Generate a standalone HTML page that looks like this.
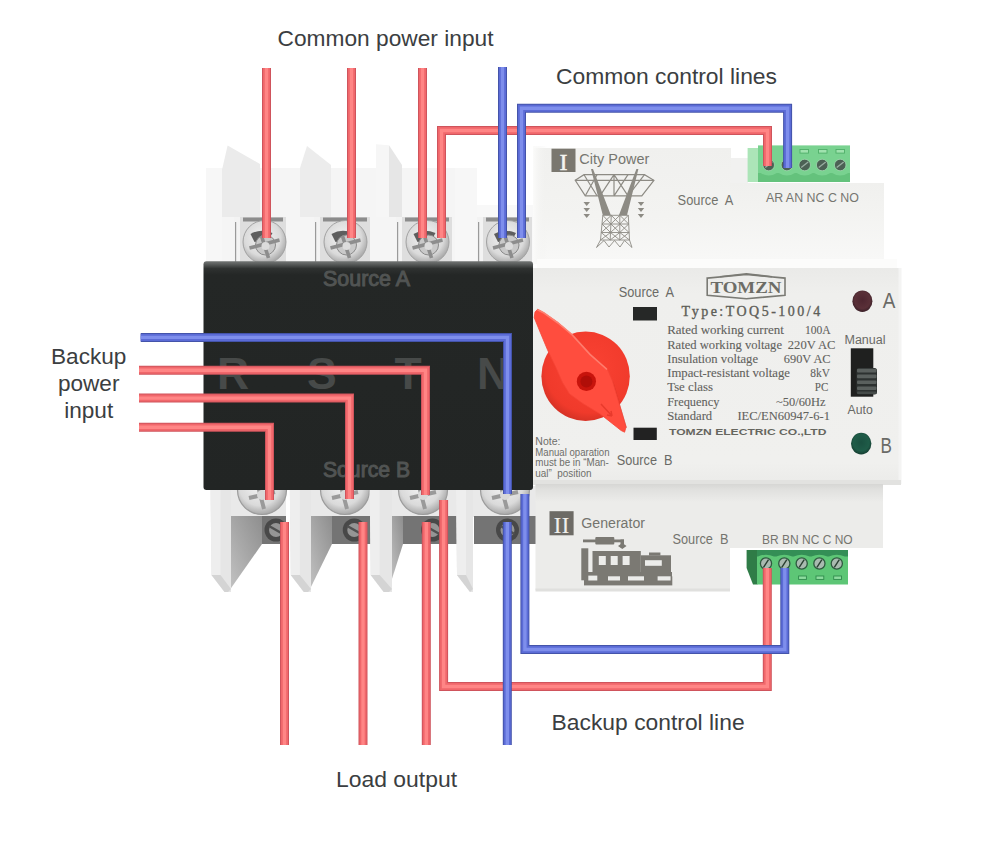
<!DOCTYPE html>
<html><head><meta charset="utf-8">
<style>
html,body{margin:0;padding:0;background:#fff;width:1000px;height:856px;overflow:hidden}
svg{display:block}
text{font-family:"Liberation Sans",sans-serif;white-space:pre}
.lbl{font-size:22.6px;fill:#3b3e41}
.ser{font-family:"Liberation Serif",serif}
.g6{fill:#707070}
</style></head><body>
<svg width="1000" height="856" viewBox="0 0 1000 856" xml:space="preserve">
<defs>
<linearGradient id="blk" x1="0" y1="0" x2="0" y2="1">
<stop offset="0" stop-color="#727574"/><stop offset="0.012" stop-color="#5a5d5c"/><stop offset="0.032" stop-color="#2e3130"/><stop offset="0.06" stop-color="#242726"/><stop offset="1" stop-color="#222524"/>
</linearGradient>
<linearGradient id="wedge" x1="1" y1="0" x2="0" y2="1">
<stop offset="0" stop-color="#8e8e8e"/><stop offset="0.5" stop-color="#a8a8a8"/><stop offset="1" stop-color="#c4c4c4"/>
</linearGradient>
<radialGradient id="screw" cx="0.45" cy="0.4" r="0.6">
<stop offset="0" stop-color="#f4f4f4"/><stop offset="0.7" stop-color="#dadada"/><stop offset="1" stop-color="#a8a8a8"/>
</radialGradient>
<linearGradient id="bband" x1="0" y1="0" x2="0" y2="1">
<stop offset="0" stop-color="#d6d6d4"/><stop offset="0.3" stop-color="#e0e0de"/><stop offset="1" stop-color="#ececea"/>
</linearGradient>
<linearGradient id="tmod" x1="0" y1="0" x2="0" y2="1">
<stop offset="0" stop-color="#f0f0ee"/><stop offset="0.6" stop-color="#f3f3f1"/><stop offset="1" stop-color="#f8f8f7"/>
</linearGradient>
<linearGradient id="tmod2" x1="0" y1="0" x2="0" y2="1">
<stop offset="0" stop-color="#f0f0ee"/><stop offset="0.4" stop-color="#f3f3f1"/><stop offset="1" stop-color="#f8f8f7"/>
</linearGradient>
<linearGradient id="pnl" x1="0" y1="0" x2="0" y2="1">
<stop offset="0" stop-color="#eaeae8"/><stop offset="0.12" stop-color="#efefed"/><stop offset="0.9" stop-color="#f0f0ee"/><stop offset="1" stop-color="#ebebe9"/>
</linearGradient>
<linearGradient id="tedge" x1="0" y1="0" x2="1" y2="0">
<stop offset="0" stop-color="#fbfbfa"/><stop offset="1" stop-color="#f1f1ef" stop-opacity="0"/>
</linearGradient>
<radialGradient id="dial" cx="0.55" cy="0.4" r="0.6">
<stop offset="0" stop-color="#fa4233"/><stop offset="0.85" stop-color="#f03a2b"/><stop offset="1" stop-color="#d83326"/>
</radialGradient>
<radialGradient id="ledA" cx="0.5" cy="0.45" r="0.55">
<stop offset="0" stop-color="#4e2630"/><stop offset="0.7" stop-color="#5a3038"/><stop offset="1" stop-color="#3a2028"/>
</radialGradient>
<radialGradient id="ledB" cx="0.5" cy="0.45" r="0.55">
<stop offset="0" stop-color="#1a5040"/><stop offset="0.7" stop-color="#1f5c48"/><stop offset="1" stop-color="#163e32"/>
</radialGradient>
</defs>
<rect width="1000" height="856" fill="#fff"/>

<g id="topfins">
<rect x="206" y="168" width="249" height="94" fill="#f5f5f5"/>
<rect x="455" y="168" width="22" height="94" fill="#f7f7f7"/>
<rect x="477" y="205" width="59" height="57" fill="#f8f8f8"/>
<rect x="206" y="168" width="16" height="94" fill="#f7f7f7"/>
<polygon points="222,170 227.6,145.6 260,164 260,217 222,217" fill="#ebebeb"/>
<polygon points="300,168 307,146 331,165 331,217 300,217" fill="#ececec"/>
<polygon points="376,168 376,144.3 389,145.2 389,217 376,217" fill="#f6f6f6"/>
<polygon points="389,145.2 402,165 402,217 389,217" fill="#e6e6e6"/>
</g>
<g id="topterm">
<rect x="234" y="217" width="6" height="45" fill="#f3f3f3"/>
<rect x="235" y="222" width="1.2" height="40" fill="#9a9a9a"/>
<rect x="240" y="217" width="46" height="45" fill="#dedede"/>
<rect x="243" y="217.5" width="40" height="4" fill="#8c8c8c"/>
<circle cx="264.5" cy="242" r="21.5" fill="url(#screw)" stroke="#a2a2a2" stroke-width="1"/>
<path d="M250.5 234Q260.5 228 272.5 233L268.5 240L254.5 242Z" fill="#5e5e5e"/>
<circle cx="265.5" cy="245" r="10" fill="#c9c9c9" stroke="#8a8a8a" stroke-width="1"/>
<path d="M249.5 248L279.5 240M261.5 236L268.5 258" stroke="#8d8d8d" stroke-width="3.6"/>
<circle cx="265.5" cy="246" r="4" fill="#dcdcdc"/>
<rect x="314" y="217" width="6" height="45" fill="#f3f3f3"/>
<rect x="315" y="222" width="1.2" height="40" fill="#9a9a9a"/>
<rect x="320" y="217" width="50" height="45" fill="#dedede"/>
<rect x="323" y="217.5" width="44" height="4" fill="#8c8c8c"/>
<circle cx="345.5" cy="242" r="21.5" fill="url(#screw)" stroke="#a2a2a2" stroke-width="1"/>
<path d="M331.5 234Q341.5 228 353.5 233L349.5 240L335.5 242Z" fill="#5e5e5e"/>
<circle cx="346.5" cy="245" r="10" fill="#c9c9c9" stroke="#8a8a8a" stroke-width="1"/>
<path d="M330.5 248L360.5 240M342.5 236L349.5 258" stroke="#8d8d8d" stroke-width="3.6"/>
<circle cx="346.5" cy="246" r="4" fill="#dcdcdc"/>
<rect x="396" y="217" width="6" height="45" fill="#f3f3f3"/>
<rect x="397" y="222" width="1.2" height="40" fill="#9a9a9a"/>
<rect x="402" y="217" width="50" height="45" fill="#dedede"/>
<rect x="405" y="217.5" width="44" height="4" fill="#8c8c8c"/>
<circle cx="427.5" cy="242" r="21.5" fill="url(#screw)" stroke="#a2a2a2" stroke-width="1"/>
<path d="M413.5 234Q423.5 228 435.5 233L431.5 240L417.5 242Z" fill="#5e5e5e"/>
<circle cx="428.5" cy="245" r="10" fill="#c9c9c9" stroke="#8a8a8a" stroke-width="1"/>
<path d="M412.5 248L442.5 240M424.5 236L431.5 258" stroke="#8d8d8d" stroke-width="3.6"/>
<circle cx="428.5" cy="246" r="4" fill="#dcdcdc"/>
<rect x="477" y="217" width="6" height="45" fill="#f3f3f3"/>
<rect x="478" y="222" width="1.2" height="40" fill="#9a9a9a"/>
<rect x="483" y="217" width="49" height="45" fill="#dedede"/>
<rect x="486" y="217.5" width="43" height="4" fill="#8c8c8c"/>
<circle cx="508" cy="242" r="21.5" fill="url(#screw)" stroke="#a2a2a2" stroke-width="1"/>
<path d="M494 234Q504 228 516 233L512 240L498 242Z" fill="#5e5e5e"/>
<circle cx="509" cy="245" r="10" fill="#c9c9c9" stroke="#8a8a8a" stroke-width="1"/>
<path d="M493 248L523 240M505 236L512 258" stroke="#8d8d8d" stroke-width="3.6"/>
<circle cx="509" cy="246" r="4" fill="#dcdcdc"/>
</g>
<g id="botfins">
<rect x="227" y="486" width="59" height="31" fill="#e9e9e9"/>
<circle cx="262" cy="490" r="24.5" fill="url(#screw)" stroke="#9c9c9c" stroke-width="1.2"/>
<path d="M249 498L275 492M258 486L264 509" stroke="#9a9a9a" stroke-width="4"/>
<circle cx="262" cy="495" r="5" fill="#d8d8d8"/>
<rect x="262" y="516" width="24" height="28" fill="#747474"/>
<circle cx="276.0" cy="530" r="11.5" fill="#484848"/>
<circle cx="276.0" cy="530" r="7" fill="#959595"/>
<path d="M269.0 526L283.0 534" stroke="#505050" stroke-width="2.5"/>
<polygon points="229,516 262,516 262,544 229,591" fill="url(#wedge)"/>
<polygon points="210.5,486 231,486 231,592 224.5,592 211.5,575" fill="#e6e6e6"/>
<polygon points="210.5,486 220.5,486 220.5,578 211.5,575" fill="#eeeeee"/>
<polygon points="211.5,575 220.5,575 231,589 228,592 224.5,592" fill="#d4d4d4"/>
<rect x="307" y="486" width="65.5" height="31" fill="#e9e9e9"/>
<circle cx="345" cy="490" r="24.5" fill="url(#screw)" stroke="#9c9c9c" stroke-width="1.2"/>
<path d="M332 498L358 492M341 486L347 509" stroke="#9a9a9a" stroke-width="4"/>
<circle cx="345" cy="495" r="5" fill="#d8d8d8"/>
<rect x="332" y="516" width="40.5" height="28" fill="#747474"/>
<circle cx="354.25" cy="530" r="11.5" fill="#484848"/>
<circle cx="354.25" cy="530" r="7" fill="#959595"/>
<path d="M347.25 526L361.25 534" stroke="#505050" stroke-width="2.5"/>
<polygon points="309,516 332,516 332,544 309,591" fill="url(#wedge)"/>
<polygon points="289.8,486 311,486 311,592 303.8,592 290.8,575" fill="#e6e6e6"/>
<polygon points="289.8,486 299.8,486 299.8,578 290.8,575" fill="#eeeeee"/>
<polygon points="290.8,575 299.8,575 311,589 308,592 303.8,592" fill="#d4d4d4"/>
<rect x="388" y="486" width="70" height="31" fill="#e9e9e9"/>
<circle cx="423" cy="490" r="24.5" fill="url(#screw)" stroke="#9c9c9c" stroke-width="1.2"/>
<path d="M410 498L436 492M419 486L425 509" stroke="#9a9a9a" stroke-width="4"/>
<circle cx="423" cy="495" r="5" fill="#d8d8d8"/>
<rect x="403" y="516" width="55" height="28" fill="#747474"/>
<circle cx="432.5" cy="530" r="11.5" fill="#484848"/>
<circle cx="432.5" cy="530" r="7" fill="#959595"/>
<path d="M425.5 526L439.5 534" stroke="#505050" stroke-width="2.5"/>
<polygon points="390,516 403,516 403,544 391,582" fill="url(#wedge)"/>
<polygon points="369.7,486 392,486 392,592 383.7,592 370.7,575" fill="#e6e6e6"/>
<polygon points="369.7,486 379.7,486 379.7,578 370.7,575" fill="#eeeeee"/>
<polygon points="370.7,575 379.7,575 392,589 389,592 383.7,592" fill="#d4d4d4"/>
<rect x="469" y="486" width="68" height="31" fill="#e9e9e9"/>
<circle cx="505" cy="490" r="24.5" fill="url(#screw)" stroke="#9c9c9c" stroke-width="1.2"/>
<path d="M492 498L518 492M501 486L507 509" stroke="#9a9a9a" stroke-width="4"/>
<circle cx="505" cy="495" r="5" fill="#d8d8d8"/>
<rect x="474" y="516" width="63" height="28" fill="#747474"/>
<circle cx="507.5" cy="530" r="11.5" fill="#484848"/>
<circle cx="507.5" cy="530" r="7" fill="#959595"/>
<path d="M500.5 526L514.5 534" stroke="#505050" stroke-width="2.5"/>
<polygon points="456,486 473,486 473,592 470,592 457,575" fill="#e6e6e6"/>
<polygon points="456,486 466,486 466,578 457,575" fill="#eeeeee"/>
<polygon points="457,575 466,575 473,589 470,592 470,592" fill="#d4d4d4"/>
</g>
<rect x="203.5" y="261.3" width="329.5" height="228.7" rx="3" fill="url(#blk)"/>
<g id="blktext">
<text x="323" y="285.6" font-size="21.5" textLength="87" lengthAdjust="spacingAndGlyphs" fill="#515453" stroke="#515453" stroke-width="1">Source A</text>
<text x="323" y="476.6" font-size="21.5" textLength="87" lengthAdjust="spacingAndGlyphs" fill="#515453" stroke="#515453" stroke-width="1">Source B</text>
<text x="233" y="388.6" font-size="44.5" font-weight="bold" text-anchor="middle" fill="#474a49">R</text>
<text x="321.8" y="388.6" font-size="44.5" font-weight="bold" text-anchor="middle" fill="#474a49">S</text>
<text x="408.2" y="388.6" font-size="44.5" font-weight="bold" text-anchor="middle" fill="#474a49">T</text>
<text x="493" y="388.6" font-size="44.5" font-weight="bold" text-anchor="middle" fill="#474a49">N</text>
</g>
<g id="topmod">
<rect x="533" y="148" width="198" height="114" fill="url(#tmod)"/>
<rect x="533" y="146" width="14" height="118" fill="url(#tedge)"/>
<rect x="731" y="158" width="17" height="26" fill="#f1f1f0"/>
<rect x="730" y="183" width="154" height="77" fill="url(#tmod2)"/>
<rect x="537" y="259" width="360" height="10" fill="#fcfcfb"/>
<rect x="551.5" y="148.7" width="24" height="23.3" fill="#7a776f"/>
<text x="563.5" y="169.5" class="ser" font-size="24" text-anchor="middle" fill="#f4f4f0" stroke="#f4f4f0" stroke-width="0.5">I</text>
<text x="579.3" y="163.9" font-size="14" textLength="70" lengthAdjust="spacingAndGlyphs" fill="#76766f">City Power</text>
<g stroke="#8d8b84" fill="none" stroke-width="1.2">
<path d="M575.2 180.3L584 174.7H644.5L653.9 180.3L641.8 195.8H585.3Z"/>
<path d="M575.2 180.3H653.9M584 174.7L597 195.8M597 174.7L585.3 195.8M614 174.7L600 195.8M614 174.7L628 195.8M628 174.7L614 195.8M644.5 174.7L628 195.8M614 174.7V195.8"/>
<path d="M602.8 215.3H628.3M602.0 224H628.7M601.2 232.5H629.1M600.5 240H629.5M602.8 215.3L600.5 240M628.3 215.3L629.5 240M602.8 215.3L610.9 224M611.3 215.3L602.0 224M611.3 215.3L619.8 224M619.8 215.3L610.9 224M611.3 215.3L610.9 224M619.8 215.3L628.7 224M628.3 215.3L619.8 224M619.8 215.3L619.8 224M602.0 224L610.5 232.5M610.9 224L601.2 232.5M610.9 224L619.8 232.5M619.8 224L610.5 232.5M610.9 224L610.5 232.5M619.8 224L629.1 232.5M628.7 224L619.8 232.5M619.8 224L619.8 232.5M601.2 232.5L610.2 240M610.5 232.5L600.5 240M610.5 232.5L619.8 240M619.8 232.5L610.2 240M610.5 232.5L610.2 240M619.8 232.5L629.5 240M629.1 232.5L619.8 240M619.8 232.5L619.8 240M600.5 240L596.5 247.5L604 240.5M629.5 240L632 247.5L624.5 240.5M604 240.5L609 247L614.5 240.5L620 247L624.5 240.5" stroke-width="0.9"/>
</g>
<path d="M591 168.9L593 168.9L610.9 215.3L602.8 215.3Z M636.4 168.9L638.4 168.9L627 215.3L618.9 215.3Z" fill="#8d8b84"/>
<path d="M583.5 202H590L586.7 206Z M637.8 202H644.2L641 206Z" fill="#8d8b84"/>
<path d="M583.5 208H590L586.7 212Z M637.8 208H644.2L641 212Z" fill="#8d8b84"/>
<path d="M583.5 214H590L586.7 218Z M637.8 214H644.2L641 218Z" fill="#8d8b84"/>
<text x="677.6" y="204.8" font-size="14" textLength="55.7" lengthAdjust="spacingAndGlyphs" fill="#72726c">Source  A</text>
<rect x="747.6" y="148" width="11" height="34" fill="#ace5b8"/>
<rect x="758" y="145.4" width="92" height="36.6" fill="#79d290"/>
<path d="M758 182V173H760.7Q768.7 178 776.7 173H778.9Q786.9 178 794.9 173H796.7Q804.7 178 812.7 173H814.2Q822.2 178 830.2 173H832.2Q840.2 178 848.2 173H850V182Z" fill="#64c27c"/>
<circle cx="768.7" cy="165" r="5.8" fill="#4c6154" stroke="#a0d8ae" stroke-width="0.8"/>
<path d="M765.2 167.5L772.2 162" stroke="#9aaea2" stroke-width="1.3"/>
<circle cx="786.9" cy="165" r="5.8" fill="#4c6154" stroke="#a0d8ae" stroke-width="0.8"/>
<path d="M783.4 167.5L790.4 162" stroke="#9aaea2" stroke-width="1.3"/>
<circle cx="804.7" cy="165" r="5.8" fill="#4c6154" stroke="#a0d8ae" stroke-width="0.8"/>
<path d="M801.2 167.5L808.2 162" stroke="#9aaea2" stroke-width="1.3"/>
<circle cx="822.2" cy="165" r="5.8" fill="#4c6154" stroke="#a0d8ae" stroke-width="0.8"/>
<path d="M818.7 167.5L825.7 162" stroke="#9aaea2" stroke-width="1.3"/>
<circle cx="840.2" cy="165" r="5.8" fill="#4c6154" stroke="#a0d8ae" stroke-width="0.8"/>
<path d="M836.7 167.5L843.7 162" stroke="#9aaea2" stroke-width="1.3"/>
<rect x="800" y="149.5" width="8.5" height="3.6" fill="#9fe2ae" stroke="#4fae68" stroke-width="0.9"/>
<rect x="818.5" y="149.5" width="8.5" height="3.6" fill="#9fe2ae" stroke="#4fae68" stroke-width="0.9"/>
<rect x="836" y="149.5" width="8.5" height="3.6" fill="#9fe2ae" stroke="#4fae68" stroke-width="0.9"/>
<text x="765.9" y="202.3" font-size="12.3" textLength="93" lengthAdjust="spacingAndGlyphs" fill="#75756f">AR AN NC C NO</text>
</g>
<g id="panel">
<rect x="533" y="268" width="368" height="216" fill="url(#pnl)"/>
<rect x="898.5" y="268" width="3" height="216" fill="#f4f4f3"/>
<rect x="533" y="480" width="368" height="5" fill="#e2e2e0"/>
<text x="618.7" y="297" font-size="14" textLength="55.3" lengthAdjust="spacingAndGlyphs" fill="#6a6a66">Source  A</text>
<rect x="633" y="307" width="24" height="13.5" fill="#262827"/>
<rect x="633.5" y="427.7" width="23.3" height="12.3" fill="#222"/>
<text x="616.7" y="464.8" font-size="14" textLength="55.8" lengthAdjust="spacingAndGlyphs" fill="#6a6a66">Source  B</text>
<path d="M707.2 278.1L746.4 274.5L785 278.1V295.2L746.4 298.8L707.2 295.2Z" fill="none" stroke="#7a7a74" stroke-width="1.6"/>
<path d="M720 276.8L746.4 273.8L772 276.8" fill="none" stroke="#7a7a74" stroke-width="1.6"/>
<text x="710.4" y="292.5" class="ser" font-size="16" font-weight="bold" textLength="71" lengthAdjust="spacingAndGlyphs" fill="#6c6c66">TOMZN</text>
<text x="681.6" y="315.9" class="ser" font-size="14" textLength="138.6" lengthAdjust="spacing" fill="#5e5e58" stroke="#5e5e58" stroke-width="0.35">Type:TOQ5-100/4</text>
<text x="667.2" y="334.4" class="ser" font-size="12.4" textLength="116.6" lengthAdjust="spacingAndGlyphs" fill="#62625d" stroke="#62625d" stroke-width="0.1">Rated working current</text>
<text x="804.9" y="334.4" class="ser" font-size="12.4" textLength="25.7" lengthAdjust="spacingAndGlyphs" fill="#62625d" stroke="#62625d" stroke-width="0.1">100A</text>
<text x="667.2" y="348.8" class="ser" font-size="12.4" textLength="114.8" lengthAdjust="spacingAndGlyphs" fill="#62625d" stroke="#62625d" stroke-width="0.1">Rated working voltage</text>
<text x="787.8" y="348.8" class="ser" font-size="12.4" textLength="47.7" lengthAdjust="spacingAndGlyphs" fill="#62625d" stroke="#62625d" stroke-width="0.1">220V AC</text>
<text x="667.2" y="363.2" class="ser" font-size="12.4" textLength="90.8" lengthAdjust="spacingAndGlyphs" fill="#62625d" stroke="#62625d" stroke-width="0.1">Insulation voltage</text>
<text x="783.8" y="363.2" class="ser" font-size="12.4" textLength="46.8" lengthAdjust="spacingAndGlyphs" fill="#62625d" stroke="#62625d" stroke-width="0.1">690V AC</text>
<text x="667.2" y="377.2" class="ser" font-size="12.4" textLength="122.8" lengthAdjust="spacingAndGlyphs" fill="#62625d" stroke="#62625d" stroke-width="0.1">Impact-resistant voltage</text>
<text x="810.3" y="377.2" class="ser" font-size="12.4" textLength="19.7" lengthAdjust="spacingAndGlyphs" fill="#62625d" stroke="#62625d" stroke-width="0.1">8kV</text>
<text x="667.2" y="391.1" class="ser" font-size="12.4" textLength="45.8" lengthAdjust="spacingAndGlyphs" fill="#62625d" stroke="#62625d" stroke-width="0.1">Tse class</text>
<text x="814.8" y="391.1" class="ser" font-size="12.4" textLength="13.5" lengthAdjust="spacingAndGlyphs" fill="#62625d" stroke="#62625d" stroke-width="0.1">PC</text>
<text x="667.2" y="405.5" class="ser" font-size="12.4" textLength="52.2" lengthAdjust="spacingAndGlyphs" fill="#62625d" stroke="#62625d" stroke-width="0.1">Frequency</text>
<text x="776" y="405.5" class="ser" font-size="12.4" textLength="49.6" lengthAdjust="spacingAndGlyphs" fill="#62625d" stroke="#62625d" stroke-width="0.1">~50/60Hz</text>
<text x="667.2" y="419.9" class="ser" font-size="12.4" textLength="45.0" lengthAdjust="spacingAndGlyphs" fill="#62625d" stroke="#62625d" stroke-width="0.1">Standard</text>
<text x="737.4" y="419.9" class="ser" font-size="12.4" textLength="92.6" lengthAdjust="spacingAndGlyphs" fill="#62625d" stroke="#62625d" stroke-width="0.1">IEC/EN60947-6-1</text>
<text x="669" y="435.2" font-size="9" font-weight="bold" textLength="157.5" lengthAdjust="spacingAndGlyphs" fill="#66665f">TOMZN ELECTRIC CO.,LTD</text>
<text x="535.3" y="444.5" font-size="10.5" fill="#6e6e6a">Note:</text>
<text x="535.3" y="455.75" font-size="10.5" textLength="74.2" lengthAdjust="spacingAndGlyphs" fill="#6e6e6a">Manual oparation</text>
<text x="535.3" y="466.25" font-size="10.5" textLength="73.5" lengthAdjust="spacingAndGlyphs" fill="#6e6e6a">must be in “Man-</text>
<text x="535.3" y="476.75" font-size="10.5" textLength="56.2" lengthAdjust="spacingAndGlyphs" fill="#6e6e6a">ual”  position</text>
<ellipse cx="862.4" cy="301.2" rx="10" ry="10.8" fill="url(#ledA)"/>
<text x="882.8" y="307.8" font-size="21.5" textLength="12.6" lengthAdjust="spacingAndGlyphs" fill="#6a6a66">A</text>
<text x="844.5" y="344.1" font-size="12" textLength="41" lengthAdjust="spacingAndGlyphs" fill="#6a6a66">Manual</text>
<rect x="850.8" y="348.3" width="22.5" height="48.4" fill="#1f201f"/>
<rect x="856.5" y="368" width="20.5" height="26.5" rx="2.5" fill="#2c3130"/>
<rect x="857" y="368.8" width="19.5" height="3.6" rx="1" fill="#5a605e"/>
<rect x="857" y="374.6" width="19.5" height="3.6" rx="1" fill="#5a605e"/>
<rect x="857" y="380.4" width="19.5" height="3.6" rx="1" fill="#5a605e"/>
<rect x="857" y="386.4" width="19.5" height="3.6" rx="1" fill="#5a605e"/>
<rect x="857" y="391.6" width="19.5" height="2.4" rx="1" fill="#454b49"/>
<text x="847.6" y="413.5" font-size="12" textLength="25.2" lengthAdjust="spacingAndGlyphs" fill="#6a6a66">Auto</text>
<ellipse cx="861.2" cy="443.6" rx="10.2" ry="10.8" fill="url(#ledB)"/>
<text x="880.4" y="452.9" font-size="21.5" textLength="11.4" lengthAdjust="spacingAndGlyphs" fill="#6a6a66">B</text>
<ellipse cx="585.6" cy="376.2" rx="44.2" ry="44.7" fill="url(#dial)"/>
<path d="M590 356L608 371L614 384L627 428L620 426L606 386L600 372Z" fill="#c92a1f" opacity="0.55"/>
<path d="M537.7 309.2L544 312.7L558 322.5L572 334.4L590 354L607 368.3L612.3 380.6L626 427L624.6 432.2L621.1 430.5L600.1 413.9L582.5 403.3L569.4 393.7L562.4 382.3L556.3 368.3L547.5 349.8L540.5 333L534.2 317.6L535 312Z" fill="#ff4d3e" stroke="#f54536" stroke-width="0.8" stroke-linejoin="round"/>
<path d="M538 310L544 313L558 323L572 334.6L590 354.4L606.5 369" fill="none" stroke="#ff8a7a" stroke-width="1.6" stroke-linecap="round" opacity="0.8"/>
<circle cx="586.4" cy="381.4" r="9.6" fill="#c8140c"/>
<circle cx="586.4" cy="381.4" r="6" fill="#b00e08"/>
<path d="M601 404L612 416M612 416L607 415M612 416L611 411" stroke="#e83a2c" stroke-width="1.5" fill="none"/>
</g>
<g id="botmod">
<rect x="535.5" y="484" width="347.5" height="64" fill="#ececea"/>
<rect x="535.5" y="484" width="347.5" height="18" fill="url(#bband)"/>
<rect x="535.5" y="548" width="194.5" height="42" fill="#ececea"/>
<rect x="535.5" y="588.5" width="194.5" height="3" fill="#e0e0de"/>
<rect x="549.5" y="511.2" width="24.1" height="24.1" fill="#6d6b66"/>
<text x="561.5" y="533" class="ser" font-size="23" text-anchor="middle" fill="#efefeb" textLength="16" lengthAdjust="spacingAndGlyphs">II</text>
<text x="581.3" y="527.7" font-size="14" textLength="63.7" lengthAdjust="spacingAndGlyphs" fill="#74746e">Generator</text>
<text x="672.5" y="544" font-size="14" textLength="56" lengthAdjust="spacingAndGlyphs" fill="#74746e">Source  B</text>
<text x="762" y="544" font-size="12.3" textLength="90.7" lengthAdjust="spacingAndGlyphs" fill="#75756f">BR BN NC C NO</text>
<g fill="#7b7973">
<rect x="583" y="539.5" width="13" height="2.8"/>
<rect x="595.3" y="537" width="19" height="7.5" rx="1"/>
<rect x="614" y="539.5" width="10" height="2.8"/>
<rect x="620.5" y="539.5" width="3.5" height="8"/>
<path d="M618 546L622.3 543L626.5 546L622.3 549Z"/>
<rect x="581.3" y="548.3" width="7" height="32"/>
<rect x="592.5" y="551" width="48.3" height="22"/>
<rect x="640.8" y="555.3" width="30.2" height="21"/>
<rect x="649" y="552.5" width="11.4" height="3"/>
<rect x="584" y="576.3" width="88.3" height="9.1"/>
<rect x="588" y="572" width="84" height="5"/>
</g>
<g fill="#ececea">
<rect x="598.8" y="556" width="7" height="9"/>
<rect x="610.7" y="556" width="7" height="9"/>
<rect x="622.6" y="556" width="7" height="9"/>
<rect x="645" y="560.2" width="16.8" height="5.6"/>
<rect x="588.3" y="575.6" width="9" height="4.9"/><rect x="608" y="576.3" width="12" height="4.2"/><rect x="628" y="576.3" width="16" height="4.2"/><rect x="657.6" y="576.3" width="13" height="4.2"/>
</g>
<polygon points="746.6,550 757.5,550 757.5,584.5 753,584.5 746.6,568" fill="#2f7c47"/>
<rect x="757" y="550" width="91" height="34.5" fill="#5dc676"/>
<path d="M757 550H848V556.5H844.8Q836.8 553 828.8 556.5H827.4Q819.4 553 811.4 556.5H809.7Q801.7 553 793.7 556.5H792.3Q784.3 553 776.3 556.5H774Q766 553 758 556.5H757Z" fill="#348f56"/>
<circle cx="766" cy="563.5" r="5.6" fill="#a9bab0" stroke="#2f5a40" stroke-width="1.3"/>
<path d="M763.5 567.3L768.5 559.7" stroke="#2a3e32" stroke-width="1.4"/>
<circle cx="784.3" cy="563.5" r="5.6" fill="#a9bab0" stroke="#2f5a40" stroke-width="1.3"/>
<path d="M781.8 567.3L786.8 559.7" stroke="#2a3e32" stroke-width="1.4"/>
<circle cx="801.7" cy="563.5" r="5.6" fill="#a9bab0" stroke="#2f5a40" stroke-width="1.3"/>
<path d="M799.2 567.3L804.2 559.7" stroke="#2a3e32" stroke-width="1.4"/>
<circle cx="819.4" cy="563.5" r="5.6" fill="#a9bab0" stroke="#2f5a40" stroke-width="1.3"/>
<path d="M816.9 567.3L821.9 559.7" stroke="#2a3e32" stroke-width="1.4"/>
<circle cx="836.8" cy="563.5" r="5.6" fill="#a9bab0" stroke="#2f5a40" stroke-width="1.3"/>
<path d="M834.3 567.3L839.3 559.7" stroke="#2a3e32" stroke-width="1.4"/>
<rect x="798.6" y="576" width="7.8" height="3.4" fill="#8ddc9f" stroke="#2f8a4c" stroke-width="0.9"/>
<rect x="816" y="576" width="7.8" height="3.4" fill="#8ddc9f" stroke="#2f8a4c" stroke-width="0.9"/>
<rect x="833.7" y="576" width="7.8" height="3.4" fill="#8ddc9f" stroke="#2f8a4c" stroke-width="0.9"/>
</g>
<g id="wires" fill="none" stroke-linejoin="miter" stroke-linecap="butt">
<path d="M266.5 68V238" stroke="#cf545c" stroke-width="9"/><path d="M266.5 68V238" stroke="#f0676b" stroke-width="7"/><path d="M266.5 68V238" stroke="#ff8585" stroke-width="3.4"/>
<path d="M351.5 68V238" stroke="#cf545c" stroke-width="9"/><path d="M351.5 68V238" stroke="#f0676b" stroke-width="7"/><path d="M351.5 68V238" stroke="#ff8585" stroke-width="3.4"/>
<path d="M422.5 68V238" stroke="#cf545c" stroke-width="9"/><path d="M422.5 68V238" stroke="#f0676b" stroke-width="7"/><path d="M422.5 68V238" stroke="#ff8585" stroke-width="3.4"/>
<path d="M441.5 238V130.5H767.5V166" stroke="#cf545c" stroke-width="9"/><path d="M441.5 238V130.5H767.5V166" stroke="#f0676b" stroke-width="7"/><path d="M441.5 238V130.5H767.5V166" stroke="#ff8585" stroke-width="3.4"/>
<path d="M139 370.3H425.5V495" stroke="#cf545c" stroke-width="9"/><path d="M139 370.3H425.5V495" stroke="#f0676b" stroke-width="7"/><path d="M139 370.3H425.5V495" stroke="#ff8585" stroke-width="3.4"/>
<path d="M139 398.1H349.5V499" stroke="#cf545c" stroke-width="9"/><path d="M139 398.1H349.5V499" stroke="#f0676b" stroke-width="7"/><path d="M139 398.1H349.5V499" stroke="#ff8585" stroke-width="3.4"/>
<path d="M139 427.3H269.5V500" stroke="#cf545c" stroke-width="9"/><path d="M139 427.3H269.5V500" stroke="#f0676b" stroke-width="7"/><path d="M139 427.3H269.5V500" stroke="#ff8585" stroke-width="3.4"/>
<path d="M284.5 522V745" stroke="#cf545c" stroke-width="9"/><path d="M284.5 522V745" stroke="#f0676b" stroke-width="7"/><path d="M284.5 522V745" stroke="#ff8585" stroke-width="3.4"/>
<path d="M363 522V745" stroke="#cf545c" stroke-width="9"/><path d="M363 522V745" stroke="#f0676b" stroke-width="7"/><path d="M363 522V745" stroke="#ff8585" stroke-width="3.4"/>
<path d="M426.3 522V745" stroke="#cf545c" stroke-width="9"/><path d="M426.3 522V745" stroke="#f0676b" stroke-width="7"/><path d="M426.3 522V745" stroke="#ff8585" stroke-width="3.4"/>
<path d="M443.6 500V686.5H767.3V568" stroke="#cf545c" stroke-width="9"/><path d="M443.6 500V686.5H767.3V568" stroke="#f0676b" stroke-width="7"/><path d="M443.6 500V686.5H767.3V568" stroke="#ff8585" stroke-width="3.4"/>
<path d="M502.5 67V238" stroke="#4454aa" stroke-width="9"/><path d="M502.5 67V238" stroke="#5b6bd6" stroke-width="7"/><path d="M502.5 67V238" stroke="#7e8eec" stroke-width="3.4"/>
<path d="M521.5 238V108.2H787.6V168" stroke="#4454aa" stroke-width="9"/><path d="M521.5 238V108.2H787.6V168" stroke="#5b6bd6" stroke-width="7"/><path d="M521.5 238V108.2H787.6V168" stroke="#7e8eec" stroke-width="3.4"/>
<path d="M140.7 337.4H507.5V494" stroke="#4454aa" stroke-width="9"/><path d="M140.7 337.4H507.5V494" stroke="#5b6bd6" stroke-width="7"/><path d="M140.7 337.4H507.5V494" stroke="#7e8eec" stroke-width="3.4"/>
<path d="M507.3 522V745" stroke="#4454aa" stroke-width="9"/><path d="M507.3 522V745" stroke="#5b6bd6" stroke-width="7"/><path d="M507.3 522V745" stroke="#7e8eec" stroke-width="3.4"/>
<path d="M524.9 494V649.5H784.8V568" stroke="#4454aa" stroke-width="9"/><path d="M524.9 494V649.5H784.8V568" stroke="#5b6bd6" stroke-width="7"/><path d="M524.9 494V649.5H784.8V568" stroke="#7e8eec" stroke-width="3.4"/>
</g>
<g class="lbl">
<text x="277.5" y="45.8" textLength="216" lengthAdjust="spacingAndGlyphs">Common power input</text>
<text x="556" y="83.5" textLength="221" lengthAdjust="spacingAndGlyphs">Common control lines</text>
<text x="88.7" y="364" text-anchor="middle">Backup</text>
<text x="88.7" y="390.5" text-anchor="middle">power</text>
<text x="88.7" y="417.5" text-anchor="middle">input</text>
<text x="551.6" y="729.7" textLength="193" lengthAdjust="spacingAndGlyphs">Backup control line</text>
<text x="336" y="786.6" textLength="121" lengthAdjust="spacingAndGlyphs">Load output</text>
</g>
</svg>
</body></html>
